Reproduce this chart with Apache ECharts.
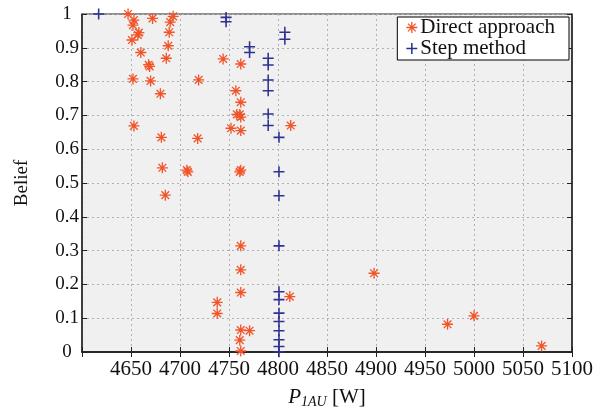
<!DOCTYPE html>
<html>
<head>
<meta charset="utf-8">
<script src="https://cdn.jsdelivr.net/npm/echarts@6/dist/echarts.min.js"></script>
<style>
  html, body { margin: 0; padding: 0; background: #fff; }
  #chart { width: 609px; height: 411px; }
</style>
</head>
<body>
<div id="chart"></div>
<script>
// Direct approach: power [W] and belief
const directPower = [4647, 4653, 4652, 4672, 4693, 4690, 4658, 4657, 4651, 4689,
  4688, 4660, 4686, 4668, 4669, 4652, 4670, 4719, 4680, 4653,
  4681, 4718, 4682, 4707, 4708, 4685, 4744, 4762, 4757, 4762,
  4758, 4761, 4762, 4752, 4762, 4813, 4762, 4761, 4762, 4762,
  4762, 4812, 4738, 4738, 4762, 4771, 4761, 4762, 4898, 4973,
  5000, 5069];
const directBelief = [1.0, 0.982, 0.967, 0.987, 0.993, 0.976, 0.945, 0.938, 0.923, 0.946,
  0.906, 0.886, 0.869, 0.85, 0.845, 0.808, 0.802, 0.805, 0.764, 0.669,
  0.635, 0.632, 0.545, 0.538, 0.533, 0.464, 0.867, 0.852, 0.773, 0.739,
  0.703, 0.703, 0.695, 0.662, 0.655, 0.67, 0.538, 0.533, 0.314, 0.243,
  0.176, 0.164, 0.147, 0.114, 0.065, 0.063, 0.035, 0.003, 0.233, 0.082,
  0.107, 0.018];

// Step method
const stepPower = [4617, 4747, 4747, 4807, 4807, 4771, 4771, 4790, 4790, 4790,
  4790, 4790, 4790, 4801, 4801, 4801, 4801, 4801, 4801, 4801,
  4801, 4801, 4801, 4801, 4801];
const stepBelief = [1.0, 0.99, 0.977, 0.946, 0.925, 0.903, 0.886, 0.869, 0.849, 0.805,
  0.773, 0.704, 0.67, 0.635, 0.533, 0.462, 0.314, 0.178, 0.155, 0.115,
  0.09, 0.063, 0.036, 0.016, 0.001];

const xTicks = [4600, 5100, 50];
const yTicks = [0, 1, 0.1];

const FONT = '"Liberation Serif", "DejaVu Serif", serif';
const ORANGE = '#f2542a';
const BLUE = '#2e3192';

// asterisk = plus + cross, plus = two bars
const ASTERISK = 'path://M0 8.8L20 8.8L20 11.2L0 11.2Z' +
  'M8.8 0L11.2 0L11.2 20L8.8 20Z' +
  'M3.85 2.15L17.85 16.15L16.15 17.85L2.15 3.85Z' +
  'M17.85 3.85L3.85 17.85L2.15 16.15L16.15 2.15Z';
const PLUS = 'path://M0 8.6L20 8.6L20 11.4L0 11.4Z M8.6 0L11.4 0L11.4 20L8.6 20Z';

const zip = (xs, ys) => xs.map((x, i) => [x, ys[i]]);

const chart = echarts.init(document.getElementById('chart'));

const tickStyle = { show: true, inside: true, length: 5, lineStyle: { color: '#222', width: 1 } };
const lineStyle = { show: true, lineStyle: { color: '#222', width: 1.5 } };
const gridLine = { show: true, lineStyle: { color: '#b0b0b0', type: [2, 3], width: 1 } };

chart.setOption({
  animation: false,
  backgroundColor: '#fff',
  grid: {
    left: 82, right: 37, top: 14, bottom: 59,
    outerBoundsMode: 'none',
    show: true, backgroundColor: '#eff0ef', borderColor: '#222', borderWidth: 1
  },
  legend: {
    orient: 'vertical',
    right: 40, top: 17,
    backgroundColor: '#fff',
    borderColor: '#000', borderWidth: 1, borderRadius: 0,
    padding: [0, 14, 1, 9],
    itemGap: 0,
    itemWidth: 11, itemHeight: 11,
    textStyle: { fontFamily: FONT, fontSize: 21, lineHeight: 20, color: '#111', padding: [0, 0, 0, -2] },
    data: [
      { name: 'Direct approach', icon: ASTERISK },
      { name: 'Step method', icon: PLUS }
    ]
  },
  xAxis: [{
    type: 'value',
    min: xTicks[0], max: xTicks[1], interval: xTicks[2],
    name: '{p|P}{s|1AU}{w| [W]}',
    nameLocation: 'middle', nameGap: 34,
    nameTextStyle: {
      rich: {
        p: { fontFamily: FONT, fontStyle: 'italic', fontSize: 21, color: '#111' },
        s: { fontFamily: FONT, fontStyle: 'italic', fontSize: 14, color: '#111', padding: [9, 0, 0, 0] },
        w: { fontFamily: FONT, fontSize: 21, color: '#111' }
      }
    },
    axisLine: lineStyle, axisTick: tickStyle, splitLine: gridLine,
    axisLabel: {
      fontFamily: FONT, fontSize: 21, color: '#111', margin: 7,
      formatter: v => (v === xTicks[0] ? '' : String(v))
    }
  }, {
    type: 'value', position: 'top',
    min: xTicks[0], max: xTicks[1], interval: xTicks[2],
    axisLine: lineStyle, axisTick: tickStyle,
    axisLabel: { show: false }, splitLine: { show: false }
  }],
  yAxis: [{
    type: 'value',
    min: yTicks[0], max: yTicks[1], interval: yTicks[2],
    name: 'Belief',
    nameLocation: 'middle', nameGap: 50, nameRotate: 90,
    nameTextStyle: { fontFamily: FONT, fontSize: 19, color: '#111' },
    axisLine: lineStyle, axisTick: tickStyle, splitLine: gridLine,
    axisLabel: { fontFamily: FONT, fontSize: 19, color: '#111', margin: 15, align: 'center' }
  }, {
    type: 'value', position: 'right',
    min: yTicks[0], max: yTicks[1], interval: yTicks[2],
    axisLine: lineStyle, axisTick: tickStyle,
    axisLabel: { show: false }, splitLine: { show: false }
  }],
  series: [{
    name: 'Direct approach',
    type: 'scatter',
    symbol: ASTERISK,
    symbolSize: 11,
    itemStyle: { color: ORANGE, opacity: 1 },
    data: zip(directPower, directBelief)
  }, {
    name: 'Step method',
    type: 'scatter',
    symbol: PLUS,
    symbolSize: 11,
    itemStyle: { color: BLUE, opacity: 1 },
    data: zip(stepPower, stepBelief)
  }]
});
</script>
</body>
</html>
